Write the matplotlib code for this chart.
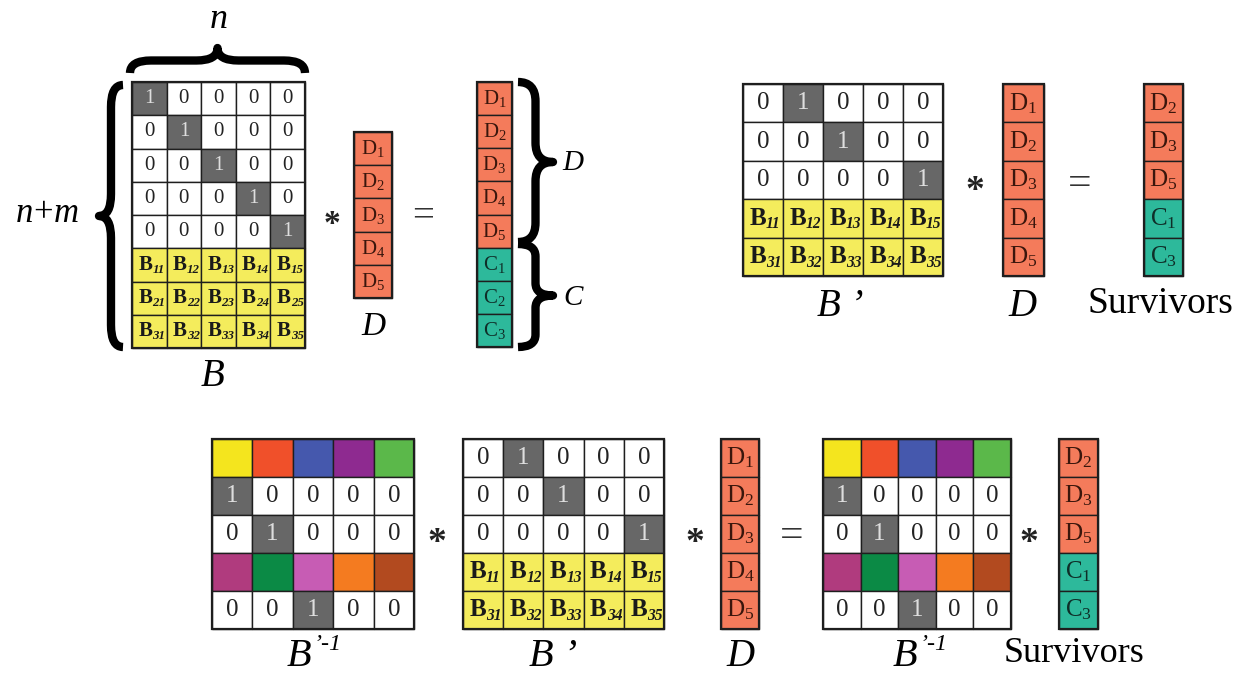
import matplotlib
matplotlib.use("Agg")
import matplotlib.pyplot as plt
from matplotlib.path import Path
from matplotlib.patches import PathPatch, Rectangle

plt.rcParams['font.family'] = ['Liberation Serif', 'DejaVu Serif']
plt.rcParams['mathtext.fontset'] = 'custom'
plt.rcParams['mathtext.rm'] = 'Liberation Serif'
plt.rcParams['mathtext.it'] = 'Liberation Serif:italic'
plt.rcParams['mathtext.bf'] = 'Liberation Serif:bold'

# contenido de las matrices (codigo de cada celda)
filas_B = [
    ["1", "0", "0", "0", "0"],
    ["0", "1", "0", "0", "0"],
    ["0", "0", "1", "0", "0"],
    ["0", "0", "0", "1", "0"],
    ["0", "0", "0", "0", "1"],
    ["B11", "B12", "B13", "B14", "B15"],
    ["B21", "B22", "B23", "B24", "B25"],
    ["B31", "B32", "B33", "B34", "B35"],
]
filas_Bp = [
    ["0", "1", "0", "0", "0"],
    ["0", "0", "1", "0", "0"],
    ["0", "0", "0", "0", "1"],
    ["B11", "B12", "B13", "B14", "B15"],
    ["B31", "B32", "B33", "B34", "B35"],
]
filas_Binv = [
    ["#f4e51e", "#f0502a", "#4558ad", "#8e2a90", "#5bb84a"],
    ["1", "0", "0", "0", "0"],
    ["0", "1", "0", "0", "0"],
    ["#b03b7e", "#0b8a45", "#c75cb4", "#f47b20", "#b24a1f"],
    ["0", "0", "1", "0", "0"],
]
vector_D = ["D1", "D2", "D3", "D4", "D5"]
vector_DC = ["D1", "D2", "D3", "D4", "D5", "C1", "C2", "C3"]
supervivientes = ["D2", "D3", "D5", "C1", "C3"]

GRIS = "#676767"
AMARILLO = "#f4ec5c"
NARANJA = "#f47b5b"
VERDE = "#2db99b"
BORDE = "#1e1e1e"


def celda(ax, x, y, w, h, cod, fs):
    fondo, txt, col = "white", None, "#222222"
    cx, cy = x + w / 2, y + h / 2
    if cod == "0":
        txt = "0"
    elif cod == "1":
        fondo, txt, col = GRIS, "1", "#dedede"
    elif cod.startswith("#"):
        fondo = cod
    elif cod[0] == "B":
        fondo = AMARILLO
        # B en negrita con subindice en cursiva
        ax.text(cx + 3, cy, "B", ha="right", va="center", fontsize=fs, fontweight="bold", color="#1a1a1a")
        ax.text(cx + 3, cy + fs * 0.32, cod[1:], ha="left", va="center", fontsize=fs * 0.62,
                style="italic", fontweight="bold", color="#1a1a1a")
    elif cod[0] == "D":
        fondo, txt, col = NARANJA, r"$\mathrm{D}_{%s}$" % cod[1:], "#3a160c"
    elif cod[0] == "C":
        fondo, txt, col = VERDE, r"$\mathrm{C}_{%s}$" % cod[1:], "#0f2e28"
    ax.add_patch(Rectangle((x, y), w, h, facecolor=fondo, edgecolor=BORDE, linewidth=1.0, zorder=1))
    if txt:
        ax.text(cx, cy, txt, ha="center", va="center", fontsize=fs, color=col)


def matriz(ax, x0, x1, y0, y1, filas, fs):
    nf, nc = len(filas), len(filas[0])
    w, h = (x1 - x0) / nc, (y1 - y0) / nf
    for i, fila in enumerate(filas):
        for j, cod in enumerate(fila):
            celda(ax, x0 + j * w, y0 + i * h, w, h, cod, fs)
    ax.add_patch(Rectangle((x0, y0), x1 - x0, y1 - y0, fill=False, edgecolor=BORDE, linewidth=1.6, zorder=2))


def vector(ax, x0, x1, y0, y1, elems, fs):
    matriz(ax, x0, x1, y0, y1, [[e] for e in elems], fs)


def llave(ax, a, b, base, punta, vertical=True, lw=6.0):
    # llave curva entre a y b, con la punta en 'punta'
    L = b - a
    m = (base + punta) / 2
    q = min(L * 0.12, 22)
    pts = [(a, base), (a, m), (a + q, m), (a + L / 2 - q, m), (a + L / 2, m), (a + L / 2, punta),
           (a + L / 2, m), (a + L / 2 + q, m), (b - q, m), (b, m), (b, base)]
    codes = [Path.MOVETO, Path.CURVE3, Path.CURVE3, Path.LINETO, Path.CURVE3, Path.CURVE3,
             Path.CURVE3, Path.CURVE3, Path.LINETO, Path.CURVE3, Path.CURVE3]
    if vertical:
        pts = [(v, u) for u, v in pts]
    ax.add_patch(PathPatch(Path(pts, codes), fill=False, edgecolor="black", linewidth=lw,
                           capstyle="butt", joinstyle="round"))


def signo(ax, x, y, s, fs=24):
    if s == "*":
        ax.text(x, y + 7, "*", ha="center", va="center", fontsize=fs, fontweight="bold", color="#222222")
    else:
        ax.text(x, y, s, ha="center", va="center", fontsize=fs, color="#333333")


def etiqueta_inv(ax, x, y, fs=29):
    ax.text(x - 8, y, "B", ha="center", va="center", fontsize=fs, style="italic")
    ax.text(x + 6, y - 13, "\u2019-1", ha="left", va="center", fontsize=fs * 0.6, style="italic")


fig = plt.figure(figsize=(12.45, 6.74), dpi=100)
ax = fig.add_axes([0, 0, 1, 1])
ax.set_xlim(0, 1245)
ax.set_ylim(674, 0)
ax.axis("off")

# panel superior izquierdo
matriz(ax, 132, 305, 82, 348, filas_B, 15)
llave(ax, 130, 305, 73, 48, vertical=False)
llave(ax, 85, 347, 123, 99, vertical=True)
ax.text(218, 20, r"$n$", ha="center", va="center", fontsize=26)
ax.text(47, 213, r"$n\!+\!m$", ha="center", va="center", fontsize=25)
ax.text(213, 377, "B", ha="center", va="center", fontsize=28, style="italic")
signo(ax, 332, 217, "*", 24)
vector(ax, 354, 392, 132, 298, vector_D, 15)
ax.text(373, 327, "D", ha="center", va="center", fontsize=24, style="italic")
signo(ax, 423, 217, "=", 28)
vector(ax, 477, 512, 82, 347, vector_DC, 15)
llave(ax, 82, 242, 518, 553, vertical=True)
llave(ax, 244, 347, 518, 553, vertical=True)
ax.text(573, 163, "D", ha="center", va="center", fontsize=21, style="italic")
ax.text(573, 298, "C", ha="center", va="center", fontsize=21, style="italic")

# panel superior derecho
matriz(ax, 743, 943, 84, 276, filas_Bp, 18)
signo(ax, 975, 185, "*", 27)
vector(ax, 1003, 1044, 84, 276, vector_D, 18)
signo(ax, 1080, 185, "=", 30)
vector(ax, 1144, 1183, 84, 276, supervivientes, 18)
ax.text(840, 306, "B \u2019", ha="center", va="center", fontsize=28, style="italic")
ax.text(1022, 306, "D", ha="center", va="center", fontsize=28, style="italic")
ax.text(1160, 304, "Survivors", ha="center", va="center", fontsize=27)

# panel inferior
matriz(ax, 212, 414, 439, 629, filas_Binv, 18)
signo(ax, 437, 537, "*", 27)
matriz(ax, 463, 664, 439, 629, filas_Bp, 18)
signo(ax, 695, 537, "*", 27)
vector(ax, 721, 759, 439, 629, vector_D, 18)
signo(ax, 792, 537, "=", 30)
matriz(ax, 823, 1011, 439, 629, filas_Binv, 18)
signo(ax, 1029, 537, "*", 27)
vector(ax, 1059, 1098, 439, 629, supervivientes, 18)
etiqueta_inv(ax, 307, 657)
ax.text(553, 657, "B \u2019", ha="center", va="center", fontsize=29, style="italic")
ax.text(740, 657, "D", ha="center", va="center", fontsize=28, style="italic")
etiqueta_inv(ax, 913, 657)
ax.text(1074, 653, "Survivors", ha="center", va="center", fontsize=26)

fig.savefig("out.png", dpi=100)
